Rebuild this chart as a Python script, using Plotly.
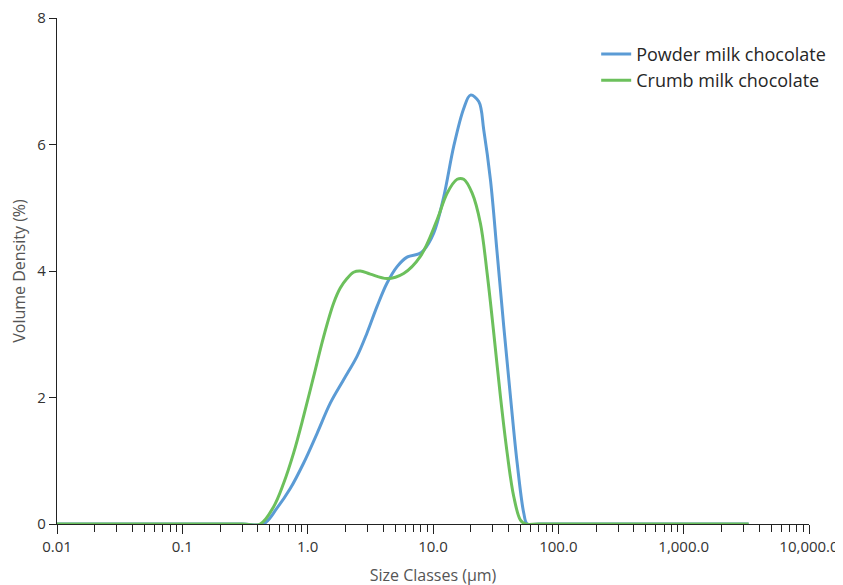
import plotly.graph_objects as go

# Size classes (µm) and volume density (%)
powder_size = [0.01, 0.3, 0.444, 0.569, 0.726, 0.927, 1.187, 1.515, 1.935, 2.476, 2.976, 3.578,
               4.30, 5.17, 6.21, 7.69, 8.43, 10.13, 12.17, 14.63, 17.59, 19.89, 23.17, 25.41,
               28.74, 32.51, 36.70, 41.51, 46.96, 53.02, 56.44, 70.0, 3300.0]
powder_vol = [0, 0, 0, 0.25, 0.56, 0.96, 1.43, 1.91, 2.28, 2.65, 3.02, 3.44,
              3.81, 4.07, 4.22, 4.27, 4.33, 4.60, 5.17, 5.97, 6.57, 6.78, 6.68, 6.23,
              5.44, 4.28, 3.12, 2.01, 0.96, 0.17, 0, 0, 0]

crumb_size = [0.01, 0.3, 0.418, 0.534, 0.642, 0.772, 0.927, 1.115, 1.340, 1.610, 1.82, 2.06,
              2.325, 2.63, 3.162, 4.30, 5.83, 7.93, 10.78, 12.96, 15.58, 17.59, 20.53, 23.91,
              27.05, 30.53, 34.54, 39.07, 44.12, 49.90, 54.70, 70.0, 3300.0]
crumb_vol = [0, 0, 0, 0.27, 0.64, 1.12, 1.70, 2.33, 2.96, 3.49, 3.73, 3.88,
             3.98, 4.00, 3.95, 3.88, 3.96, 4.23, 4.81, 5.23, 5.45, 5.45, 5.23, 4.75,
             3.96, 3.02, 2.01, 1.12, 0.43, 0.06, 0, 0, 0]

x_tickvals = [0.01, 0.1, 1, 10, 100, 1000, 10000]
x_ticktext = ["0.01", "0.1", "1.0", "10.0", "100.0", "1,000.0", "10,000.0"]
y_tickvals = [0, 2, 4, 6, 8]

minor_vals = [m * 10 ** k for k in range(-2, 4) for m in range(2, 10)]

fig = go.Figure()
fig.add_trace(go.Scatter(x=powder_size, y=powder_vol, mode="lines", name="Powder milk chocolate",
                         line=dict(color="#5B9BD5", width=3, shape="spline", smoothing=1.0)))
fig.add_trace(go.Scatter(x=crumb_size, y=crumb_vol, mode="lines", name="Crumb milk chocolate",
                         line=dict(color="#6CC05C", width=3, shape="spline", smoothing=1.0)))

font_family = "Open Sans, Noto Sans, sans-serif"
fig.update_layout(
    width=843, height=585,
    # page body has an 8px default margin; compensate so plot area sits at x 57-809, y 18-524
    margin=dict(l=49, r=42, t=10, b=69),
    paper_bgcolor="white", plot_bgcolor="white",
    font=dict(family=font_family, size=15, color="#333333"),
    showlegend=True,
    legend=dict(x=0.717, y=0.965, xanchor="left", yanchor="top",
                font=dict(size=18, color="#262626"), bgcolor="rgba(0,0,0,0)",
                itemwidth=30, tracegroupgap=0),
    xaxis=dict(type="log", range=[-2, 4], tickvals=x_tickvals, ticktext=x_ticktext,
               automargin=False, ticklabeloverflow="allow",
               showgrid=False, zeroline=False, showline=True, linecolor="#222", linewidth=1.3,
               ticks="outside", ticklen=9, tickwidth=1.3, tickcolor="#222",
               minor=dict(tickvals=minor_vals, ticks="outside", ticklen=7, tickwidth=1.3,
                          tickcolor="#222", showgrid=False),
               title=dict(text="Size Classes (µm)", font=dict(size=16, color="#555555"), standoff=14),
               tickfont=dict(size=15, color="#333333")),
    yaxis=dict(range=[0, 8], tickvals=y_tickvals, showgrid=False, zeroline=False,
               automargin=False, ticklabeloverflow="allow",
               showline=True, linecolor="#222", linewidth=1.3,
               ticks="outside", ticklen=7, tickwidth=1.3, tickcolor="#222",
               title=dict(text="Volume Density (%)", font=dict(size=16, color="#555555"), standoff=10),
               tickfont=dict(size=15, color="#333333")),
)

fig.write_html("out.html")
